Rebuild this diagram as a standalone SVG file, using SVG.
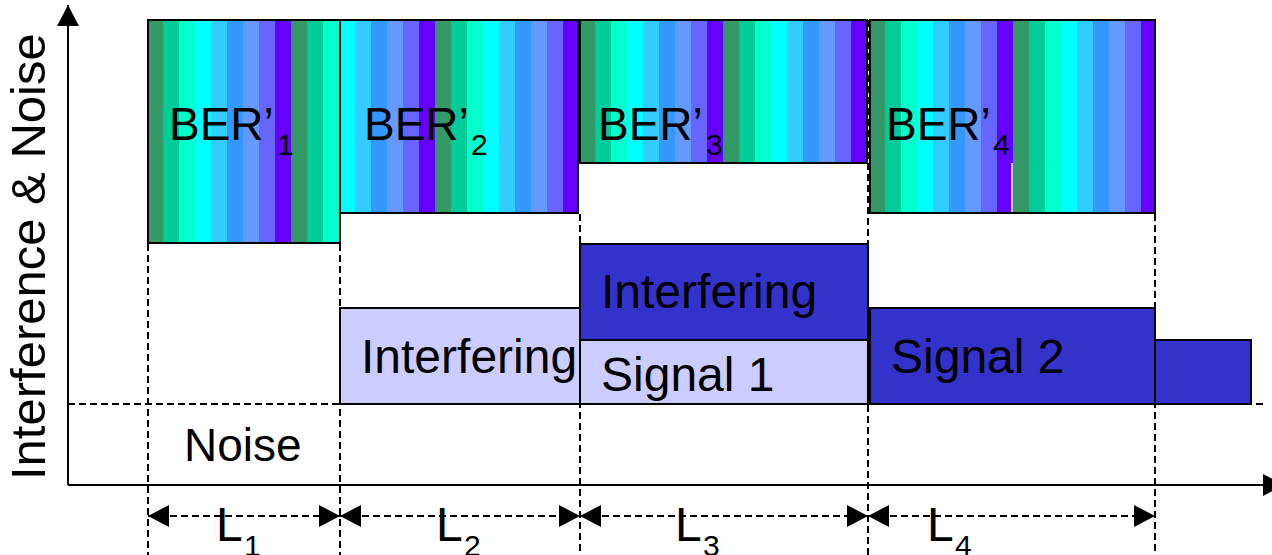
<svg xmlns="http://www.w3.org/2000/svg" width="1272" height="555" viewBox="0 0 1272 555">
  <style>
    text { font-family: "Liberation Sans", Arial, sans-serif; fill: #000; }
    .lbl { font-size: 48px; }
    .ber { font-size: 46px; }
    .sub { font-size: 30px; }
    .blk { stroke: #000; stroke-width: 2; }
    .light { fill: #CCCCFF; }
    .dark { fill: #3333CC; }
    .stripes { fill: url(#stripes); stroke: #000; stroke-width: 2; }
    .dash { stroke: #000; stroke-width: 2; stroke-dasharray: 7 4; fill: none; }
    .axis { stroke: #000; stroke-width: 2; fill: none; }
  </style>
  <defs>
    <!-- nine 16px colour bands, repeating every 144px -->
    <pattern id="stripes" patternUnits="userSpaceOnUse" x="0" y="0" width="144" height="600">
      <rect x="0" y="0" width="16" height="600" fill="#339966"/>
      <rect x="16" y="0" width="16" height="600" fill="#00CC99"/>
      <rect x="32" y="0" width="16" height="600" fill="#00FFCC"/>
      <rect x="48" y="0" width="16" height="600" fill="#00FFFF"/>
      <rect x="64" y="0" width="16" height="600" fill="#33CCFF"/>
      <rect x="80" y="0" width="16" height="600" fill="#3399FF"/>
      <rect x="96" y="0" width="16" height="600" fill="#6699FF"/>
      <rect x="112" y="0" width="16" height="600" fill="#6666FF"/>
      <rect x="128" y="0" width="16" height="600" fill="#6600FF"/>
    </pattern>
    <marker id="head" markerUnits="userSpaceOnUse" markerWidth="22" markerHeight="24" refX="21" refY="11" orient="auto-start-reverse" viewBox="0 0 22 24">
      <path d="M0,0 L21,11 L0,22 Z" fill="#000"/>
    </marker>
  </defs>

  <!-- axes -->
  <g id="axes">
    <line class="axis" x1="68" y1="485" x2="68" y2="5" marker-end="url(#head)"/>
    <line class="axis" x1="68" y1="485" x2="1284" y2="485" marker-end="url(#head)"/>
    <text transform="translate(45,480) rotate(-90)" style="font-size:49px">Interference &amp; Noise</text>
  </g>

  <!-- interference / signal levels -->
  <g id="interfering-2">
    <rect class="blk light" x="340" y="308" width="240" height="96"/>
    <text class="lbl" x="361" y="373">Interfering</text>
  </g>
  <g id="signal-1">
    <rect class="blk light" x="580" y="340" width="288" height="64"/>
    <text class="lbl" x="601" y="391">Signal 1</text>
  </g>
  <g id="interfering-3">
    <rect class="blk dark" x="580" y="244" width="288" height="96"/>
    <text class="lbl" x="601" y="308">Interfering</text>
  </g>
  <g id="signal-2">
    <rect class="blk dark" x="870" y="308" width="285" height="96"/>
    <text class="lbl" x="891" y="373">Signal 2</text>
  </g>
  <g id="signal-2-tail">
    <rect class="blk dark" x="1155" y="340" width="96" height="64"/>
  </g>
  <g id="noise">
    <text x="184" y="461" style="font-size:46px">Noise</text>
  </g>

  <!-- BER' blocks -->
  <g id="ber-1">
    <g transform="translate(147,0)">
      <rect class="stripes" x="1" y="20" width="192" height="223"/>
    </g>
    <text class="ber" x="169" y="140">BER’<tspan class="sub" x="277" y="155">1</tspan></text>
  </g>
  <g id="ber-2">
    <g transform="translate(291,0)">
      <rect class="stripes" x="49" y="20" width="238" height="193"/>
    </g>
    <text class="ber" x="364" y="140">BER’<tspan class="sub" x="471" y="155">2</tspan></text>
  </g>
  <g id="ber-3">
    <g transform="translate(579,0)">
      <rect class="stripes" x="1" y="20" width="287" height="143"/>
    </g>
    <text class="ber" x="598" y="140">BER’<tspan class="sub" x="706" y="155">3</tspan></text>
  </g>
  <g id="ber-4">
    <g transform="translate(869,0)">
      <rect class="stripes" x="1" y="20" width="285" height="193"/>
    </g>
    <line x1="1012" y1="163" x2="1012" y2="212" stroke="#fff" stroke-width="1.5"/>
    <text class="ber" x="886" y="140">BER’<tspan class="sub" x="993" y="155">4</tspan></text>
  </g>

  <!-- dashed guides and interval arrows -->
  <g id="connectors">
    <line class="dash" x1="68" y1="404" x2="1266" y2="404"/>
    <line class="dash" x1="148" y1="244" x2="148" y2="555"/>
    <line class="dash" x1="340" y1="244" x2="340" y2="555"/>
    <line class="dash" x1="580" y1="214" x2="580" y2="555"/>
    <line class="dash" x1="868" y1="20" x2="868" y2="555"/>
    <line class="dash" x1="1155" y1="214" x2="1155" y2="555"/>
    <line class="dash" x1="148" y1="516" x2="340" y2="516" marker-start="url(#head)" marker-end="url(#head)"/>
    <line class="dash" x1="340" y1="516" x2="580" y2="516" marker-start="url(#head)" marker-end="url(#head)"/>
    <line class="dash" x1="580" y1="516" x2="868" y2="516" marker-start="url(#head)" marker-end="url(#head)"/>
    <line class="dash" x1="868" y1="516" x2="1155" y2="516" marker-start="url(#head)" marker-end="url(#head)"/>
  </g>

  <!-- interval labels -->
  <g id="interval-labels">
    <text class="lbl" x="216" y="541">L<tspan class="sub" x="244" y="556">1</tspan></text>
    <text class="lbl" x="436" y="541">L<tspan class="sub" x="464" y="556">2</tspan></text>
    <text class="lbl" x="675" y="541">L<tspan class="sub" x="703" y="556">3</tspan></text>
    <text class="lbl" x="927" y="541">L<tspan class="sub" x="955" y="556">4</tspan></text>
  </g>
</svg>
